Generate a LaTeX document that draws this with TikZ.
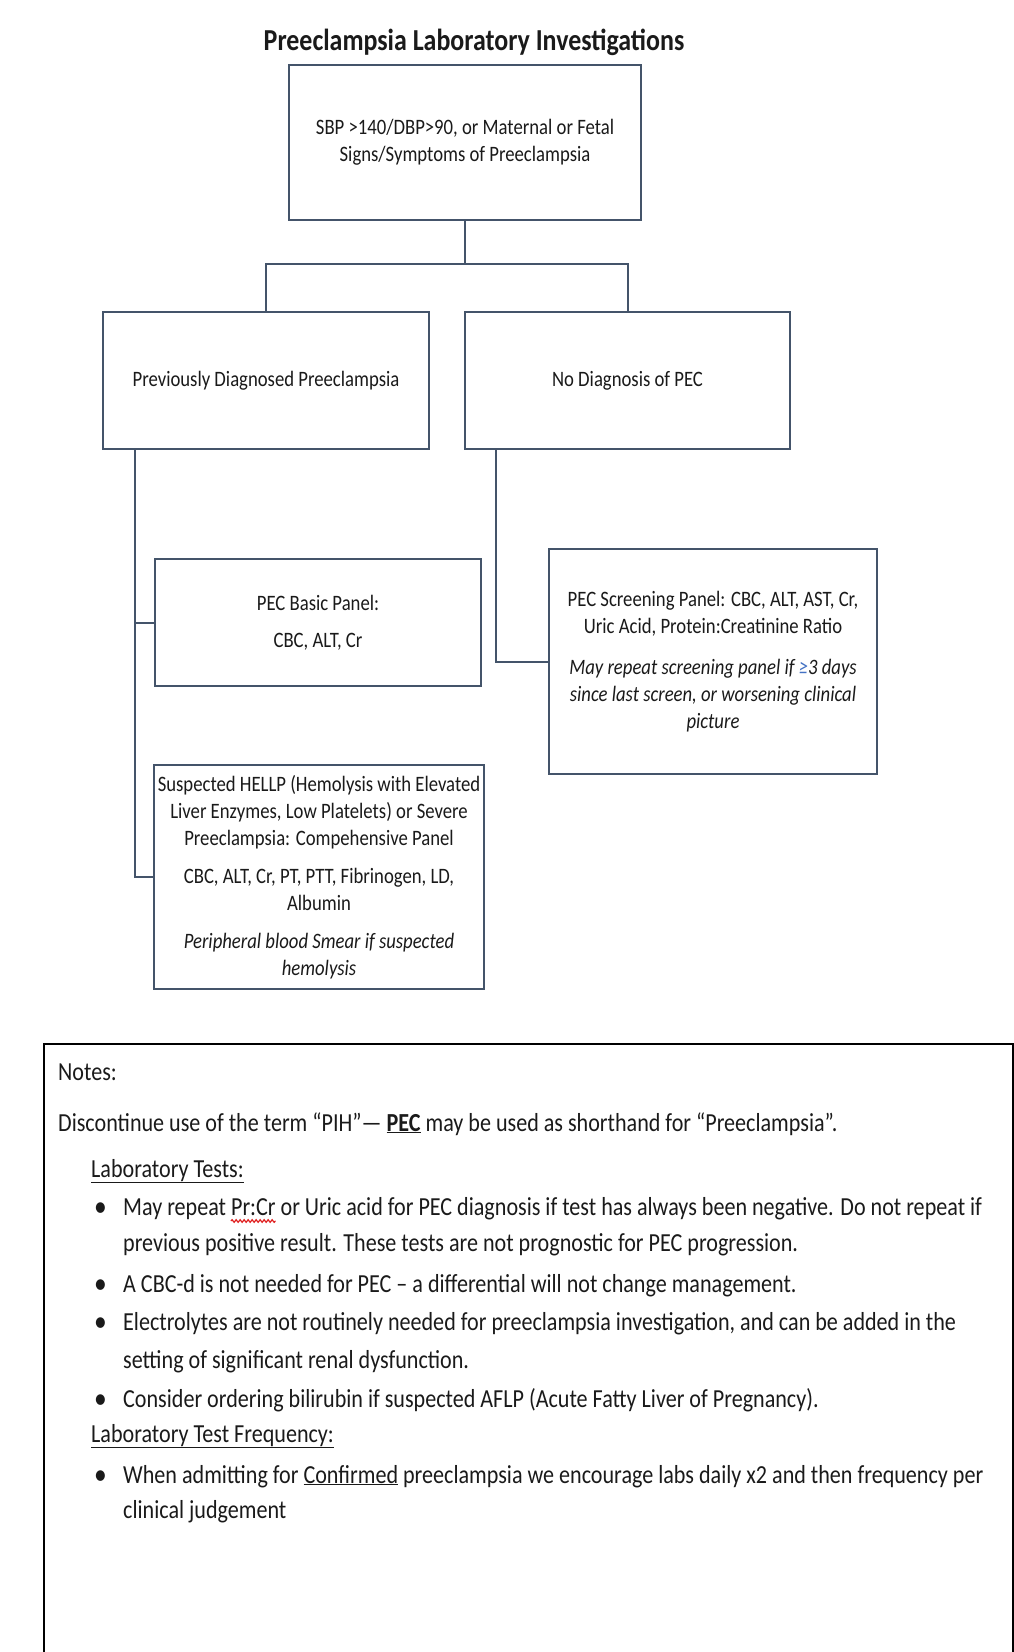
\documentclass[tikz,border=0pt]{standalone}
\usepackage{fontspec}
\setmainfont{Carlito}[FakeStretch=0.85]
\usepackage{tikz}
\usetikzlibrary{positioning,calc,decorations.pathmorphing}
\definecolor{slate}  {HTML}{44546A}
\definecolor{inkblk} {HTML}{1A1A1A}
\definecolor{geblue} {HTML}{4472C4}
\definecolor{squig}  {HTML}{E02020}
\newcommand{\titletxt}{\fontsize{30.5}{36}\selectfont\bfseries}
\newcommand{\boxtxt}{\fontsize{22}{27}\selectfont}
\newcommand{\notetxt}{\fontsize{26}{30}\selectfont}
\newlength{\prcrx}
\newlength{\prcrw}

\begin{document}
\settowidth{\prcrx}{\notetxt May repeat\ }%
\settowidth{\prcrw}{\notetxt Pr:Cr}%
\begin{tikzpicture}[x=1pt,y=-1pt,
    text=inkblk,
    box/.style={draw=slate,line width=2pt,fill=white,align=center,font=\boxtxt,inner sep=4pt},
    conn/.style={draw=slate,line width=2pt},
    noteline/.style={anchor=base west,inner sep=0pt,font=\notetxt},
    notedot/.style={anchor=base west,inner sep=0pt,font=\fontsize{30}{30}\selectfont},
    spellmark/.style={draw=squig,line width=1.2pt,decorate,decoration={snake,amplitude=1.3pt,segment length=4pt}}]
  \useasboundingbox (0,0) rectangle (1014,1652);
  \node[font=\titletxt] (title) at (474,42) {Preeclampsia Laboratory Investigations};
  % flowchart boxes
  \node[box,minimum width=352,minimum height=155] (sbp) at (465,142.5) {SBP >140/DBP>90, or Maternal or Fetal\\Signs/Symptoms of Preeclampsia};
  \node[box,minimum width=326,minimum height=137] (prevdx) at (266,380.5) {Previously Diagnosed Preeclampsia};
  \node[box,minimum width=325,minimum height=137] (nodx) at (627.5,380.5) {No Diagnosis of PEC};
  \node[box,minimum width=326,minimum height=127] (basic) at (318,622.5) {PEC Basic Panel:\\[10pt]CBC, ALT, Cr};
  \node[box,minimum width=328,minimum height=224] (hellp) at (319,877) {Suspected HELLP (Hemolysis with Elevated\\Liver Enzymes, Low Platelets) or Severe\\Preeclampsia: Compehensive Panel\\[11pt]CBC, ALT, Cr, PT, PTT, Fibrinogen, LD,\\Albumin\\[11pt]\textit{Peripheral blood Smear if suspected}\\\textit{hemolysis}};
  \node[box,minimum width=328,minimum height=225] (screen) at (713,661.5) {PEC Screening Panel: CBC, ALT, AST, Cr,\\Uric Acid, Protein:Creatinine Ratio\\[14pt]\textit{May repeat screening panel if {\color{geblue}≥}3 days}\\\textit{since last screen, or worsening clinical}\\\textit{picture}};
  % connectors
  \draw[conn] (sbp.south) -- ++(0,43) coordinate (split);
  \draw[conn] (prevdx.north) |- (split) -| (nodx.north);
  \draw[conn] ([xshift=33pt]prevdx.south west) |- (basic.west);
  \draw[conn] ([xshift=33pt]prevdx.south west) |- (hellp.west);
  \draw[conn] ([xshift=32pt]nodx.south west) |- (screen.west);
  % notes frame
  \draw[black,line width=2pt] (44,1660) |- (1012.5,1043.5) -- (1012.5,1660);
  \node[noteline] (notes) at (58,1080) {Notes:};
  \node[noteline] (discont) at (58,1131) {Discontinue use of the term “PIH”— \textbf{\underline{PEC}} may be used as shorthand for “Preeclampsia”.};
  \node[noteline] (labtests) at (91,1177) {\underline{Laboratory Tests:}};
  \node[notedot] (dota) at (94,1216) {•};
  \node[noteline] (texta) at (123,1215) {May repeat Pr:Cr or Uric acid for PEC diagnosis if test has always been negative. Do not repeat if};
  \node[noteline] (textaa) at (123,1251) {previous positive result. These tests are not prognostic for PEC progression.};
  \node[notedot] (dotb) at (94,1293) {•};
  \node[noteline] (textb) at (123,1292) {A CBC-d is not needed for PEC – a differential will not change management.};
  \node[notedot] (dotc) at (94,1331) {•};
  \node[noteline] (textc) at (123,1330) {Electrolytes are not routinely needed for preeclampsia investigation, and can be added in the};
  \node[noteline] (textcc) at (123,1368) {setting of significant renal dysfunction.};
  \node[notedot] (dotd) at (94,1408) {•};
  \node[noteline] (textd) at (123,1407) {Consider ordering bilirubin if suspected AFLP (Acute Fatty Liver of Pregnancy).};
  \node[noteline] (labfreq) at (91,1442) {\underline{Laboratory Test Frequency:}};
  \node[notedot] (dote) at (94,1484) {•};
  \node[noteline] (texte) at (123,1483) {When admitting for \underline{Confirmed} preeclampsia we encourage labs daily x2 and then frequency per};
  \node[noteline] (textee) at (123,1518) {clinical judgement};
  % spelling mark under Pr:Cr
  \draw[spellmark] ([xshift=\prcrx,yshift=-6pt]texta.base west) -- ++(\prcrw,0pt);
\end{tikzpicture}
\end{document}
